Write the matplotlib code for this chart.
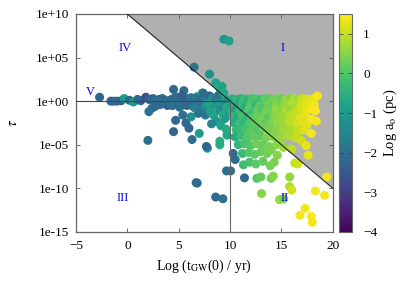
import numpy as np
import matplotlib
matplotlib.use("Agg")
import matplotlib.pyplot as plt
from matplotlib.patches import Polygon

plt.rcParams['font.family'] = ['Liberation Serif', 'DejaVu Serif']
plt.rcParams['mathtext.fontset'] = 'stix'

# (log t_GW, log tau, log a_o)
pts = [
    # left band near tau ~ 1
    (-2.7, 0.45, -2.2), (-1.6, 0.0, -2.3), (-1.3, 0.0, -2.2), (-1.0, 0.0, -2.1),
    (-0.6, 0.05, -2.3), (-0.3, 0.3, -1.0), (0.2, 0.1, -2.2), (0.6, -0.1, -1.0),
    (1.0, 0.2, -2.1), (1.3, 0.05, -2.2), (1.8, 0.45, -2.7), (2.1, 0.2, -2.3),
    (2.4, 0.15, -2.0), (2.7, 0.05, -2.2), (3.1, 0.2, -2.4), (3.4, 0.3, -2.1),
    (3.7, 0.1, -2.2), (4.0, -0.05, -2.0), (4.3, 0.2, -2.3), (4.5, 1.35, -2.1),
    (4.7, 0.5, -2.2), (4.9, 0.3, -2.0), (5.2, 0.1, -2.3), (5.5, 1.2, -2.1),
    (5.6, 0.0, -1.9), (5.9, 0.3, -2.2), (6.2, 0.4, -1.8), (6.5, 0.1, -2.0),
    (6.8, 0.5, -1.6), (7.0, 0.2, -2.1), (7.3, 0.95, -0.6), (7.5, 0.3, -1.8),
    (7.8, 0.1, -1.5), (8.0, 0.6, -2.3), (8.3, 0.4, -1.4), (8.6, 0.2, -1.9),
    (8.9, 0.0, -1.2), (9.2, 0.5, -1.6), (9.5, 0.2, -1.0), (9.8, 0.0, -1.3),
    (2.5, 0.3, -2.1), (3.0, -0.1, -2.0), (5.0, -0.1, -2.1), (6.0, -0.2, -2.0),
    (7.4, 0.9, -2.1), (4.4, -0.5, -2.2), (5.1, -0.7, -2.0), (5.8, -0.5, -2.2),
    (6.4, -0.6, -1.9), (7.0, -0.4, -2.0), (8.4, -0.3, -1.7), (9.3, -0.4, -1.5),
    (6.9, -1.4, -2.1), (7.6, -1.6, -1.8), (5.3, 0.6, -2.4), (8.9, 0.7, -2.0),
    # below the left band
    (2.1, -1.2, -2.0), (2.4, -0.8, -1.9), (2.7, -0.6, -2.2), (3.2, -0.4, -2.1),
    (3.9, -0.5, -2.3), (4.2, -0.3, -2.0), (4.7, -2.2, -2.2), (5.4, -1.6, -2.0),
    (5.7, -2.5, -2.1), (6.2, -1.8, -1.2), (6.0, -3.1, -2.2), (4.5, -3.5, -2.2),
    (7.0, -3.7, -1.0), (6.3, -4.4, -2.1), (2.0, -4.5, -2.0), (7.8, -5.4, -1.0),
    (6.8, -9.4, -2.1), (6.6, -0.8, -1.7), (7.2, -1.0, -1.9), (7.6, -0.6, -1.3),
    (8.1, -1.2, -0.9), (8.4, -1.6, -0.8), (8.7, -2.3, -1.1), (8.2, -2.6, -1.5),
    (7.9, -0.3, -0.9), (8.8, -0.6, -1.0), (9.0, -1.0, -1.4), (9.3, -1.5, -0.7),
    (9.5, -2.0, -1.0), (9.1, -2.8, -0.8), (9.7, -0.7, -0.6), (9.9, -1.2, -1.1),
    (9.6, -3.2, -0.6), (9.0, -4.6, -0.5), (9.7, -3.9, -0.7), (7.7, -5.2, -2.2),
    (9.0, -5.0, -0.6),
    # above the diagonal, upper left
    (9.4, 7.1, -1.1), (9.9, 6.9, -0.9), (6.5, 3.9, -1.9), (8.0, 3.1, -1.2),
    (8.6, 2.1, -0.8), (9.0, 1.5, -0.6), (9.4, 0.9, -0.7), (9.2, 1.7, -0.8),
    # dense right region
    (10.2, 0.25, -0.6), (10.6, 0.2, -0.3), (11.0, 0.3, -0.5), (11.4, 0.25, -0.2),
    (11.8, 0.2, -0.4), (12.2, 0.3, -0.1), (12.6, 0.25, 0.0), (13.0, 0.2, -0.2),
    (13.4, 0.3, 0.2), (13.8, 0.25, 0.1), (14.2, 0.2, 0.3), (14.6, 0.3, 0.4),
    (15.0, 0.25, 0.2), (15.4, 0.2, 0.6), (15.8, 0.3, 0.5), (16.2, 0.25, 0.8),
    (16.6, 0.2, 0.7), (17.0, 0.3, 1.0), (17.4, 0.25, 1.1), (17.8, 0.2, 1.2),
    (18.2, 0.35, 1.3), (18.5, 0.6, 1.4),
    (10.0, -0.3, -0.8), (10.4, -0.5, -0.4), (10.8, -0.4, -0.7), (11.2, -0.3, -0.3),
    (11.6, -0.5, -0.5), (12.0, -0.4, 0.0), (12.5, -0.3, -0.3), (12.9, -0.5, 0.1),
    (13.3, -0.4, 0.0), (13.7, -0.3, 0.3), (14.1, -0.5, 0.2), (14.5, -0.4, 0.5),
    (14.9, -0.3, 0.4), (15.3, -0.5, 0.6), (15.7, -0.4, 0.7), (16.1, -0.3, 0.9),
    (16.5, -0.5, 0.8), (16.9, -0.4, 1.1), (17.3, -0.3, 1.2), (17.7, -0.6, 1.3),
    (18.2, -0.4, 1.4),
    (10.1, -1.1, -0.5), (10.5, -1.0, -0.9), (10.9, -1.2, -0.2), (11.3, -1.1, -0.6),
    (11.8, -1.0, 0.1), (12.2, -1.2, -0.2), (12.7, -1.1, 0.2), (13.1, -1.0, 0.0),
    (13.6, -1.2, 0.4), (14.0, -1.1, 0.3), (14.5, -1.0, 0.6), (15.0, -1.2, 0.5),
    (15.4, -1.1, 0.8), (15.9, -1.0, 0.7), (16.4, -1.2, 1.0), (16.9, -1.1, 1.1),
    (17.4, -1.0, 1.3), (17.8, -0.9, 1.4), (18.3, -1.1, 1.5),
    (10.3, -1.8, -0.3), (10.7, -1.9, -0.7), (11.2, -1.7, -0.1), (11.7, -1.8, -0.4),
    (12.1, -1.9, 0.0), (12.6, -1.7, 0.2), (13.2, -1.8, 0.3), (13.7, -1.9, 0.1),
    (14.3, -1.7, 0.5), (14.8, -1.8, 0.6), (15.3, -1.9, 0.7), (15.8, -1.7, 0.9),
    (16.3, -1.8, 1.0), (16.8, -1.9, 1.2), (17.4, -1.7, 1.3), (18.0, -2.1, 1.5),
    (18.4, -2.3, 1.4),
    (10.4, -2.5, -0.6), (10.9, -2.6, -0.2), (11.4, -2.4, -0.4), (11.9, -2.6, 0.0),
    (12.4, -2.5, 0.1), (12.9, -2.4, 0.3), (13.5, -2.6, 0.2), (14.0, -2.5, 0.4),
    (14.6, -2.4, 0.6), (15.2, -2.6, 0.7), (15.8, -2.5, 0.9), (16.4, -2.6, 1.1),
    (17.0, -2.4, 1.2), (17.5, -2.7, 1.3),
    (10.6, -3.3, -0.4), (11.0, -3.3, -0.3), (11.5, -3.2, -0.1), (12.0, -3.4, 0.1),
    (12.6, -3.3, 0.0), (13.2, -3.2, 0.3), (13.8, -3.4, 0.4), (14.5, -3.3, 0.5),
    (15.2, -3.4, 0.7), (15.9, -3.2, 0.8), (16.6, -3.5, 1.0), (17.2, -3.3, 1.2),
    (17.9, -3.7, 1.4),
    (10.5, -4.1, -0.6), (11.1, -4.0, -0.2), (11.7, -4.2, 0.0), (12.3, -4.1, 0.2),
    (12.9, -4.0, 0.1), (13.5, -4.2, 0.4), (14.2, -4.1, 0.5), (14.9, -4.3, 0.6),
    (15.6, -4.0, 0.8), (16.3, -4.2, 1.0), (16.9, -4.5, 1.1), (17.4, -5.1, 1.3),
    (10.8, -5.0, -0.4), (11.4, -4.9, -0.1), (12.0, -5.1, 0.0), (12.6, -4.9, 0.3),
    (13.2, -5.0, 0.2), (13.8, -5.2, 0.4), (14.5, -5.0, 0.5), (15.2, -5.3, 0.7),
    (16.0, -5.5, 0.9),
    (10.3, -6.0, -2.1), (10.5, -6.7, -2.0), (11.2, -6.0, -0.3), (11.8, -5.9, 0.0),
    (12.4, -6.1, 0.1), (13.0, -5.8, 0.2), (13.6, -6.0, 0.3), (14.0, -5.6, 0.4),
    (14.6, -6.2, 0.5), (17.6, -6.2, 1.3),
    (11.3, -7.3, -0.2), (11.9, -7.0, -0.1), (12.5, -7.2, 0.1), (13.2, -6.9, 0.2),
    (13.9, -7.4, 0.3), (14.3, -7.0, 0.4), (16.3, -7.1, 1.0), (16.6, -7.2, 1.1),
    # lower scatter
    (9.65, -8.0, -2.1), (10.05, -8.0, -2.0), (11.4, -8.8, -2.2), (12.6, -8.85, 0.0),
    (13.0, -8.7, 0.2), (14.0, -8.85, 0.3), (14.2, -8.6, 0.5), (15.8, -8.7, 0.6),
    (15.8, -9.8, 0.8), (19.4, -8.7, 1.4),
    (6.7, -9.35, -2.1), (8.6, -11.0, -2.1), (9.3, -11.2, -2.0), (13.06, -10.6, 0.5),
    (14.8, -11.3, 0.7), (15.2, -11.2, 0.4), (16.0, -10.2, 1.1), (17.3, -12.3, 1.4),
    (16.8, -13.1, 1.4), (17.9, -13.2, 1.5), (18.0, -13.9, 1.4), (18.3, -10.3, 1.4),
    (19.2, -10.8, 1.4),
]

log_tgw = [p[0] for p in pts]
log_tau = [p[1] for p in pts]
log_a = [p[2] for p in pts]

region_labels = ['I', 'II', 'III', 'IV', 'V']
region_x = [15.1, 15.3, -0.4, -0.2, -3.6]
region_logtau = [6.1, -11.1, -11.1, 6.1, 1.05]

fig = plt.figure(figsize=(4.15, 2.91), dpi=100)
ax = fig.add_axes([0.183, 0.203, 0.619, 0.749])
cax = fig.add_axes([0.817, 0.203, 0.031, 0.749])

# forbidden region
poly = Polygon([(0, 1e10), (20, 1e10), (20, 1e-10)], closed=True,
               facecolor='#b0b0b0', edgecolor='none', zorder=1)
ax.add_patch(poly)

sc = ax.scatter(log_tgw, 10.0 ** np.array(log_tau), c=log_a, cmap='viridis',
                vmin=-4, vmax=1.5, s=42, edgecolors='none', zorder=2)

ax.plot([0, 20], [1e10, 1e-10], color='#222222', lw=0.8, zorder=3)
ax.plot([-5, 10], [1, 1], color='#444444', lw=0.8, zorder=3)
ax.plot([10, 10], [1e-15, 1], color='#666666', lw=0.8, zorder=3)

for lab, xx, yy in zip(region_labels, region_x, region_logtau):
    ax.text(xx, 10.0 ** yy, lab, color='#0000ee', fontsize=9, ha='center', va='center', zorder=4)

ax.set_yscale('log')
ax.set_xlim(-5, 20)
ax.set_ylim(1e-15, 1e10)
ax.set_xticks([-5, 0, 5, 10, 15, 20])
ax.set_yticks([1e-15, 1e-10, 1e-5, 1e0, 1e5, 1e10])
ax.set_yticklabels(['1e-15', '1e-10', '1e-05', '1e+00', '1e+05', '1e+10'])
ax.yaxis.set_minor_locator(matplotlib.ticker.NullLocator())
ax.tick_params(direction='in', top=True, right=True, labelsize=9.5, length=3,
               color='#555555', width=0.6)
ax.tick_params(axis='x', pad=6)
ax.tick_params(axis='y', pad=5)
for s in ax.spines.values():
    s.set_color('#666666')
    s.set_linewidth(0.9)

ax.set_xlabel(r'Log (t$_{\rm GW}$(0) / yr)', fontsize=10, labelpad=4)
ax.set_ylabel(r'$\tau$', fontsize=10.5, labelpad=11)

cb = fig.colorbar(sc, cax=cax)
cb.set_ticks([-4, -3, -2, -1, 0, 1])
cb.ax.tick_params(direction='in', labelsize=9.5, length=3, left=True, right=True,
                  color='#444444', width=0.6, pad=8)
cb.outline.set_edgecolor('#666666')
cb.set_label(r'Log a$_{\rm o}$ (pc)', fontsize=10.5, labelpad=3)

fig.savefig('out.png', dpi=100)
